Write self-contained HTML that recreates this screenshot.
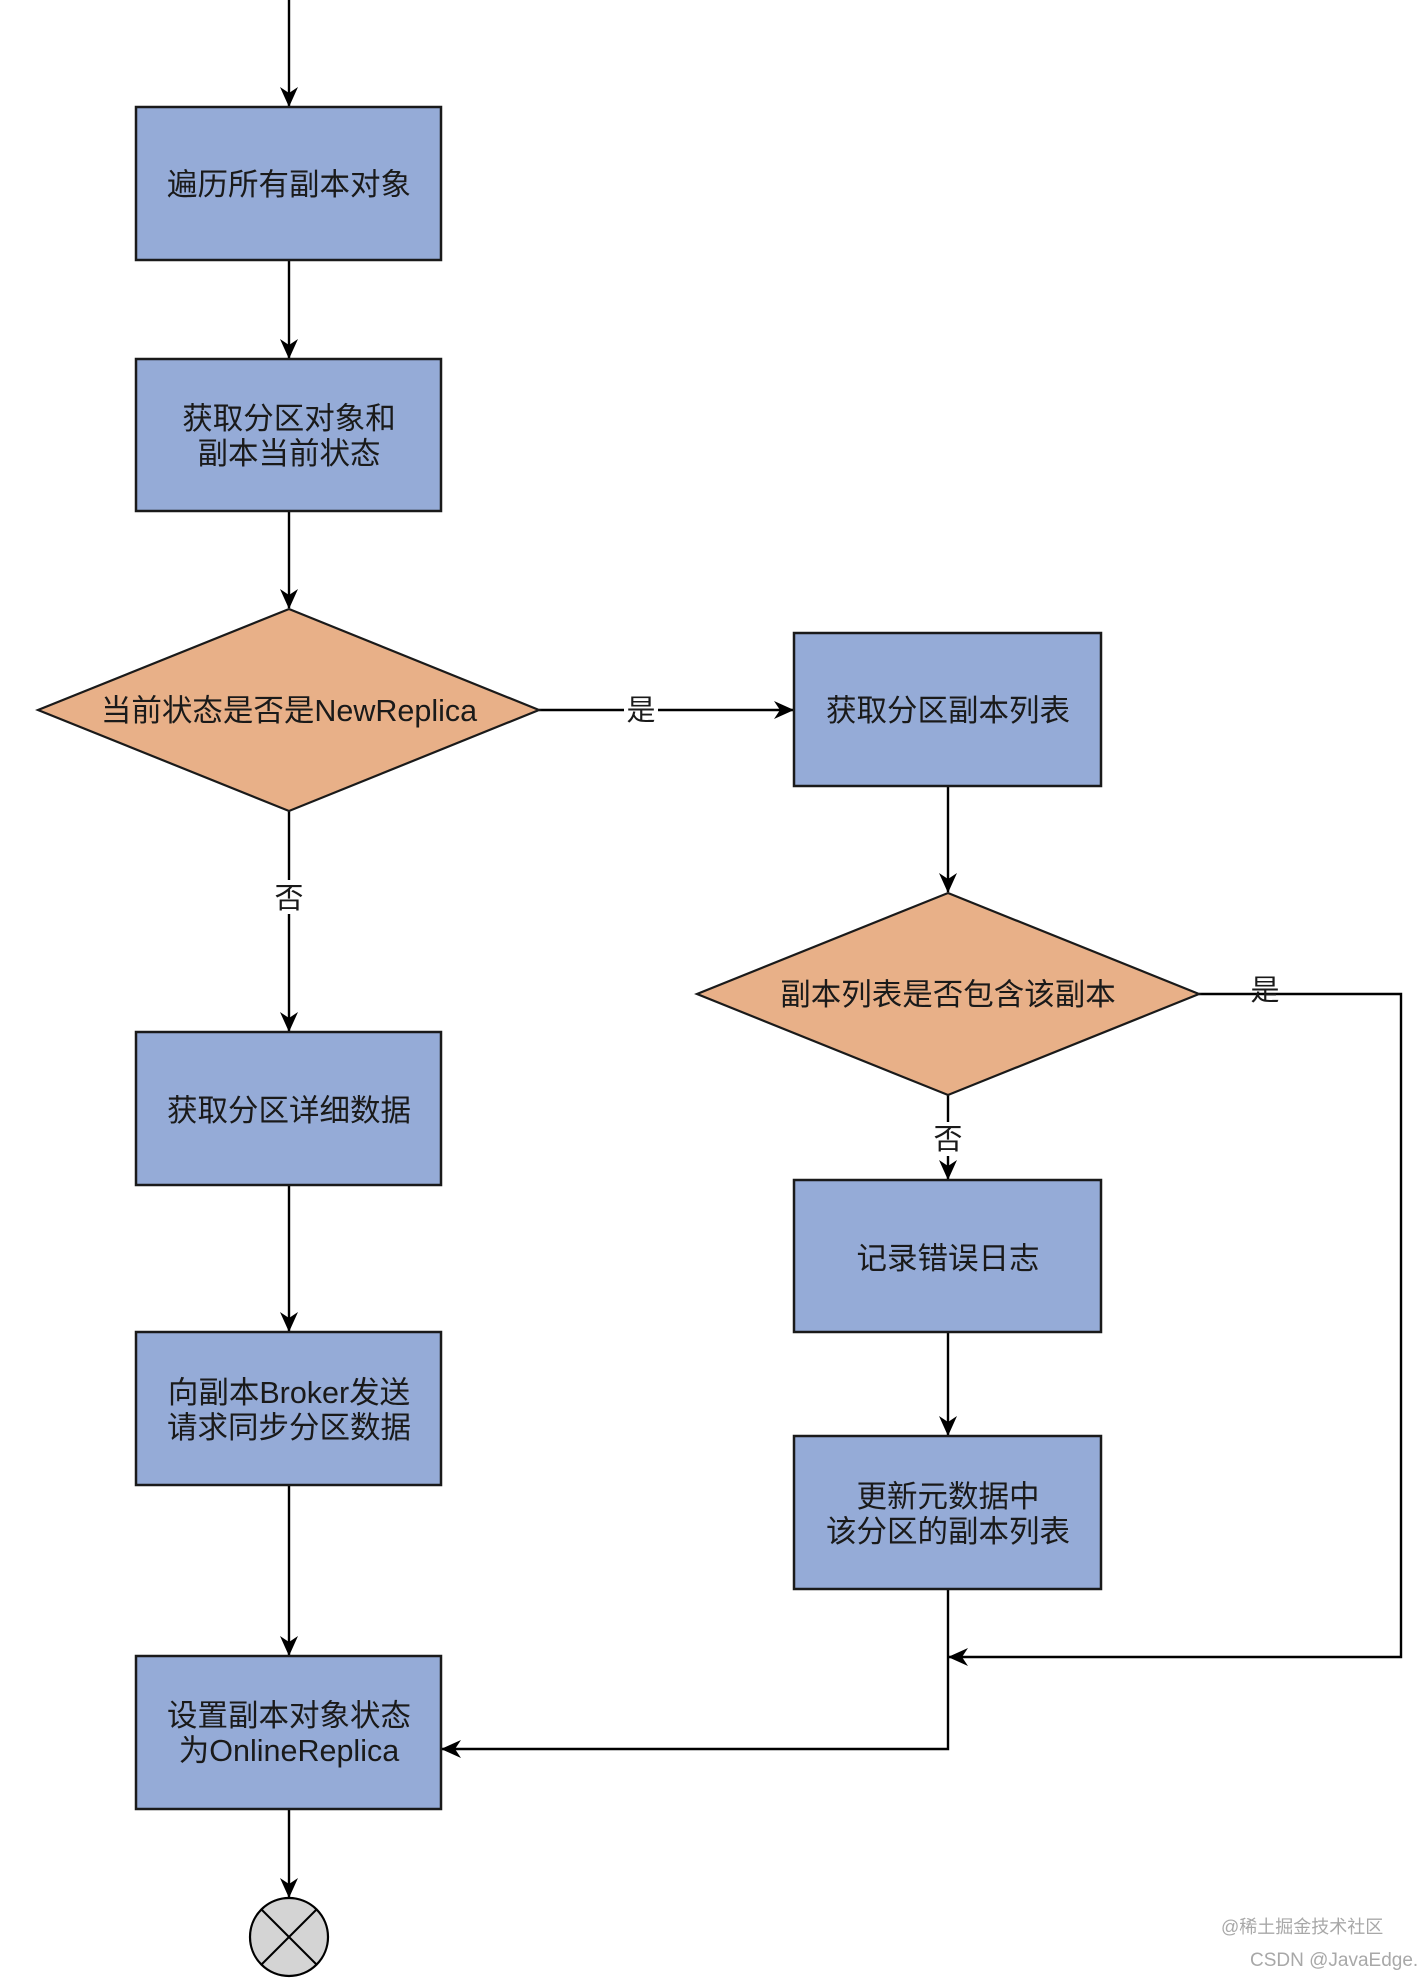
<!DOCTYPE html>
<html><head><meta charset="utf-8"><style>
html,body{margin:0;padding:0;background:#fff;}
svg{display:block}
text{font-family:"Liberation Sans","Noto Sans CJK SC",sans-serif;fill:#1a1a1a;}
</style></head><body>
<svg width="1424" height="1980" viewBox="0 0 1424 1980" xmlns="http://www.w3.org/2000/svg">
<defs>
<marker id="a" markerWidth="20" markerHeight="18" refX="19" refY="9" orient="auto" markerUnits="userSpaceOnUse" viewBox="0 0 20 18">
<path d="M0,0 L20,9 L0,18 L6,9 Z" fill="#000"/>
</marker>
</defs>
<g stroke="#000" stroke-width="2.4" fill="none">
<line x1="289" y1="0" x2="289" y2="106" marker-end="url(#a)"/>
<line x1="289" y1="260" x2="289" y2="358" marker-end="url(#a)"/>
<line x1="289" y1="511" x2="289" y2="608" marker-end="url(#a)"/>
<line x1="539" y1="710" x2="793" y2="710" marker-end="url(#a)"/>
<line x1="289" y1="811" x2="289" y2="1031" marker-end="url(#a)"/>
<line x1="289" y1="1185" x2="289" y2="1331" marker-end="url(#a)"/>
<line x1="289" y1="1485" x2="289" y2="1655" marker-end="url(#a)"/>
<line x1="289" y1="1809" x2="289" y2="1897" marker-end="url(#a)"/>
<line x1="948" y1="786" x2="948" y2="892" marker-end="url(#a)"/>
<line x1="948" y1="1095" x2="948" y2="1179" marker-end="url(#a)"/>
<line x1="948" y1="1332" x2="948" y2="1435" marker-end="url(#a)"/>
<polyline points="1199,994 1401,994 1401,1657 949,1657" marker-end="url(#a)"/>
<polyline points="948,1589 948,1749 442,1749" marker-end="url(#a)"/>
</g>
<g fill="#95abd7" stroke="#1a1a1a" stroke-width="2.5">
<rect x="136" y="107" width="305" height="153"/>
<rect x="136" y="359" width="305" height="152"/>
<rect x="136" y="1032" width="305" height="153"/>
<rect x="136" y="1332" width="305" height="153"/>
<rect x="136" y="1656" width="305" height="153"/>
<rect x="794" y="633" width="307" height="153"/>
<rect x="794" y="1180" width="307" height="152"/>
<rect x="794" y="1436" width="307" height="153"/>
</g>
<g fill="#e8b088" stroke="#1a1a1a" stroke-width="2.2">
<polygon points="289,609 539,710 289,811 38,710"/>
<polygon points="948,893 1199,994 948,1095 697,994"/>
</g>
<circle cx="289" cy="1937" r="39" fill="#d4d4d4" stroke="#000" stroke-width="2.2"/>
<line x1="261" y1="1909" x2="317" y2="1965" stroke="#000" stroke-width="2"/>
<line x1="317" y1="1909" x2="261" y2="1965" stroke="#000" stroke-width="2"/>
<g font-size="30.5" text-anchor="middle">
<text x="289" y="195">遍历所有副本对象</text>
<text x="289" y="429">获取分区对象和</text>
<text x="289" y="464">副本当前状态</text>
<text x="289" y="721">当前状态是否是NewReplica</text>
<text x="948" y="721">获取分区副本列表</text>
<text x="948" y="1005">副本列表是否包含该副本</text>
<text x="948" y="1269">记录错误日志</text>
<text x="948" y="1507">更新元数据中</text>
<text x="948" y="1542">该分区的副本列表</text>
<text x="289" y="1121">获取分区详细数据</text>
<text x="289" y="1403">向副本Broker发送</text>
<text x="289" y="1438">请求同步分区数据</text>
<text x="289" y="1726">设置副本对象状态</text>
<text x="289" y="1761">为OnlineReplica</text>
</g>
<g font-size="29" text-anchor="middle">
<rect x="624" y="693" width="34" height="34" fill="#fff"/>
<text x="641" y="720">是</text>
<rect x="272" y="880" width="34" height="34" fill="#fff"/>
<text x="289" y="908">否</text>
<rect x="931" y="1122" width="34" height="34" fill="#fff"/>
<text x="948" y="1149">否</text>
<text x="1265" y="1000">是</text>
</g>
<text x="1221" y="1933" font-size="18" style="fill:#a8a8a8">@稀土掘金技术社区</text>
<text x="1250" y="1966" font-size="19" style="fill:#a8a8a8">CSDN @JavaEdge.</text>
</svg>
</body></html>
